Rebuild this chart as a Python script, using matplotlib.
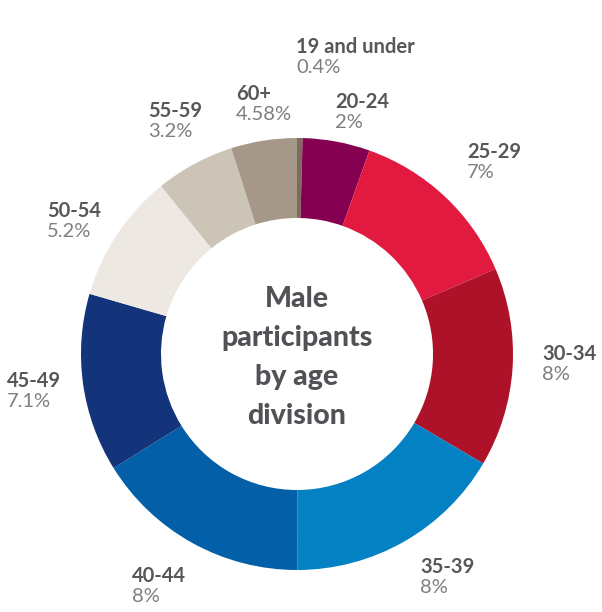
import matplotlib
import matplotlib.pyplot as plt

matplotlib.use('Agg')
plt.rcParams['font.family'] = ['Lato', 'DejaVu Sans']

# age divisions, clockwise from 12 o'clock
divisions = ['19 and under', '20-24', '25-29', '30-34', '35-39',
             '40-44', '45-49', '50-54', '55-59', '60+']
pct_labels = ['0.4%', '2%', '7%', '8%', '8%', '8%', '7.1%', '5.2%', '3.2%', '4.58%']
slice_share = [0.22, 2.69, 7.01, 7.96, 8.82, 8.65, 7.13, 5.17, 3.16, 2.63]

colors = ['#7d6b5d', '#850051', '#e31a40', '#ae1228', '#0381c3',
          '#0360a8', '#13337a', '#ede8e1', '#cdc4b8', '#a59888']

# label anchor (left x, baseline y) in pixels from the top-left
label_pos = [(296, 53), (335, 108), (467, 158), (542, 360), (420, 573),
             (132, 582), (7, 387), (47, 217), (148, 117), (236, 100)]

W, H = 602, 612


def main():

    fig = plt.figure(figsize=(W / 100, H / 100), dpi=100)
    axis = fig.add_axes([0, 0, 1, 1])
    axis.axis('off')

    axis.pie(slice_share, colors=colors, startangle=90, counterclock=False,
             center=(297, H - 354), radius=216,
             wedgeprops=dict(width=80, linewidth=0))
    axis.set_xlim(0, W)
    axis.set_ylim(0, H)
    axis.set_aspect('equal')

    for name, pct, (x, y) in zip(divisions, pct_labels, label_pos):
        axis.text(x, H - y, name, fontsize=14.5, fontweight='bold',
                  color='#555759', ha='left', va='baseline')
        axis.text(x, H - y - 20, pct, fontsize=14.5, fontweight='normal',
                  color='#7e7e7e', ha='left', va='baseline')

    center_lines = ['Male', 'participants', 'by age', 'division']
    for i, line in enumerate(center_lines):
        axis.text(297, H - (307 + 39 * i), line, fontsize=20.5,
                  fontweight=900, color='#505255', ha='center', va='baseline')

    fig.savefig('out.png', dpi=100)
    plt.close(fig)


main()
